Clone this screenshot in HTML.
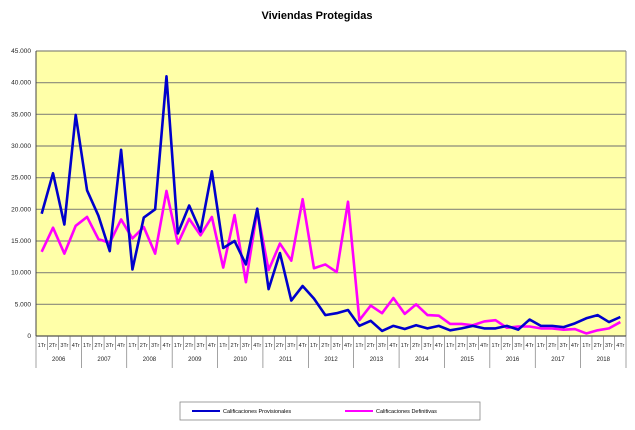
<!DOCTYPE html>
<html><head><meta charset="utf-8"><style>
body{margin:0;background:#fff;font-family:"Liberation Sans",sans-serif}
</style></head><body>
<svg id="c" width="635" height="425" xmlns="http://www.w3.org/2000/svg">
<text x="317" y="19" text-anchor="middle" font-size="11" font-weight="bold" font-family="Liberation Sans">Viviendas Protegidas</text>
<rect x="36" y="51" width="590" height="285" fill="#ffffa8"/>
<g id="grid"></g><g id="axes"></g><g id="series"></g>
<g>
<rect x="180" y="402" width="300" height="18" fill="#fff" stroke="#888" stroke-width="0.8"/>
<line x1="192" y1="411" x2="220" y2="411" stroke="#0000cc" stroke-width="2"/>
<text x="223" y="413" font-size="5.5">Calificaciones Provisionales</text>
<line x1="345" y1="411" x2="373" y2="411" stroke="#ff00ff" stroke-width="2"/>
<text x="376" y="413" font-size="5.5">Calificaciones Definitivas</text>
</g>
</svg>
<script>
const years=["2006","2007","2008","2009","2010","2011","2012","2013","2014","2015","2016","2017","2018"];
const quarters=["1Tr","2Tr","3Tr","4Tr"];
const yTicks=[0,5000,10000,15000,20000,25000,30000,35000,40000,45000];
const provisionales=[19300,25700,17600,34900,23000,19000,13400,29400,10500,18700,20000,41000,16200,20600,16500,26000,13900,15000,11300,20100,7400,13100,5600,7900,5900,3300,3600,4100,1600,2400,800,1600,1100,1700,1200,1600,900,1200,1600,1200,1200,1600,1000,2600,1600,1600,1400,2000,2800,3300,2200,3000];
const definitivas=[13300,17100,13000,17400,18800,15300,14700,18400,15400,17200,13000,22900,14600,18500,15900,18800,10800,19100,8500,19800,10400,14600,11900,21600,10700,11300,10100,21200,2500,4800,3600,6000,3500,5000,3300,3200,1900,1900,1700,2300,2500,1300,1500,1500,1200,1200,1000,1100,400,900,1200,2200];
const NS="http://www.w3.org/2000/svg";
const X0=36,X1=626,Y0=336,Y1=51,N=years.length*4,bw=(X1-X0)/N;
const xs=i=>X0+bw*(i+0.5), ys=v=>Y0-(v/45000)*(Y0-Y1);
function mk(t,a,p){const e=document.createElementNS(NS,t);for(const k in a)e.setAttribute(k,a[k]);p.appendChild(e);return e;}
const grid=document.getElementById('grid'),axes=document.getElementById('axes'),ser=document.getElementById('series');
yTicks.forEach(v=>{
 const l=mk('line',{x1:X0,x2:X1,y1:ys(v),y2:ys(v),stroke:'#8a8a7a','stroke-width':1.2},grid);
 
 
 const t=mk('text',{x:31,y:ys(v)+2,'text-anchor':'end','font-size':6.5,fill:'#222'},axes);
 t.textContent=v===0?'0':v.toLocaleString('de-DE').replace(',','.');
 
 
});
mk('line',{x1:X0,x2:X0,y1:Y1,y2:Y0,stroke:'#444'},axes);
mk('line',{x1:X1,x2:X1,y1:Y1,y2:Y0,stroke:'#888'},axes);
mk('line',{x1:X0,x2:X1,y1:Y0,y2:Y0,stroke:'#444'},axes);
for(let i=0;i<=N;i++){
 const x=X0+bw*i;
 mk('line',{x1:x,x2:x,y1:Y0,y2:i%4===0?368:350,stroke:'#666','stroke-width':0.6},axes);
 if(i<N){const t=mk('text',{x:xs(i),y:347,'text-anchor':'middle','font-size':5.5,fill:'#222'},axes);
 t.textContent=quarters[i%4];
 
 }
}
years.forEach((y,j)=>{
 const t=mk('text',{x:X0+bw*(j*4+2),y:361,'text-anchor':'middle','font-size':6,fill:'#222'},axes);
 t.textContent=y;
 
 
});
function line(d,c,n){
 const p=mk('polyline',{points:d.map((v,i)=>xs(i)+','+ys(v)).join(' '),fill:'none',stroke:c,'stroke-width':2.6,'stroke-linejoin':'round'},ser);
 
 
}
line(definitivas,'#ff00ff','series-definitivas');
line(provisionales,'#0000cc','series-provisionales');
</script>
</body></html>
